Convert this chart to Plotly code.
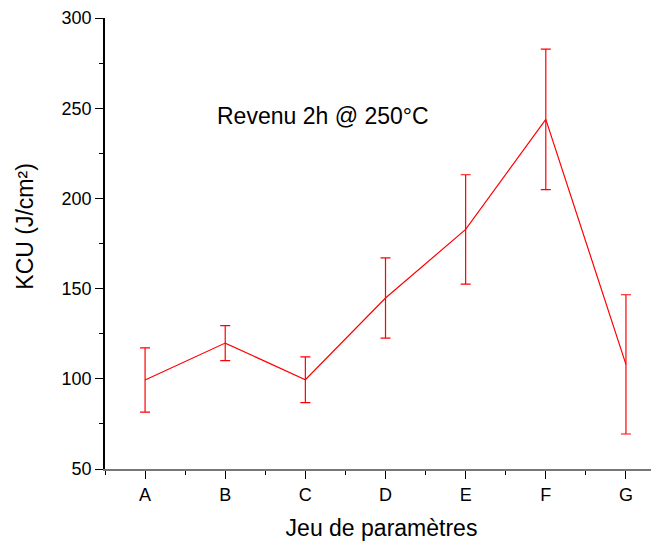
import plotly.graph_objects as go

# parameter sets and measured KCU values (J/cm²)
jeux = ["A", "B", "C", "D", "E", "F", "G"]
kcu = [99.3, 119.8, 99.5, 144.8, 182.8, 243.8, 108.0]
err = [17.8, 9.7, 12.7, 22.2, 30.3, 38.9, 38.6]

pos = list(range(len(jeux)))

fig = go.Figure()
fig.add_trace(go.Scatter(
    x=pos, y=kcu, mode="lines",
    line=dict(color="#ff0000", width=1.2),
    error_y=dict(type="data", array=err, visible=True,
                 color="#ff0000", thickness=1.2, width=5),
    showlegend=False,
))

fig.add_annotation(text="Revenu 2h @ 250°C", x=0.394, y=0.783,
                   xref="paper", yref="paper", showarrow=False,
                   xanchor="center", yanchor="middle",
                   font=dict(size=23, color="black"))

# y title sits a bit above the middle of the axis in the original,
# so it is drawn as a rotated annotation
fig.add_annotation(text="KCU (J/cm²)", x=-0.145, y=0.537,
                   xref="paper", yref="paper", showarrow=False,
                   xanchor="center", yanchor="middle", textangle=-90,
                   font=dict(size=23, color="black"))

# the page body has an 8px margin, so the figure is 8px smaller on each side
font = "Liberation Sans, Arial, sans-serif"
fig.update_layout(
    width=651, height=536,
    margin=dict(l=97, r=1, t=10, b=75),
    paper_bgcolor="white", plot_bgcolor="white",
    font=dict(family=font, color="black"),
    xaxis=dict(
        range=[-0.5, 6.4], tickvals=pos, ticktext=jeux,
        showgrid=False, zeroline=False, automargin=False,
        showline=True, linecolor="#777777", linewidth=2,
        ticks="outside", ticklen=8, tickcolor="black", tickwidth=1,
        tickfont=dict(size=18),
        minor=dict(ticks="outside", ticklen=4, dtick=0.5, tick0=0.5,
                   tickcolor="black"),
        title=dict(text="Jeu de paramètres", font=dict(size=23), standoff=16),
    ),
    yaxis=dict(
        range=[50, 300], tickvals=[50, 100, 150, 200, 250, 300],
        showgrid=False, zeroline=False, automargin=False,
        showline=True, linecolor="black", linewidth=1.5,
        ticks="outside", ticklen=8, tickcolor="black", tickwidth=1,
        tickfont=dict(size=18),
        minor=dict(ticks="outside", ticklen=4, dtick=25, tickcolor="black"),
    ),
)

fig.write_html("out.html")
